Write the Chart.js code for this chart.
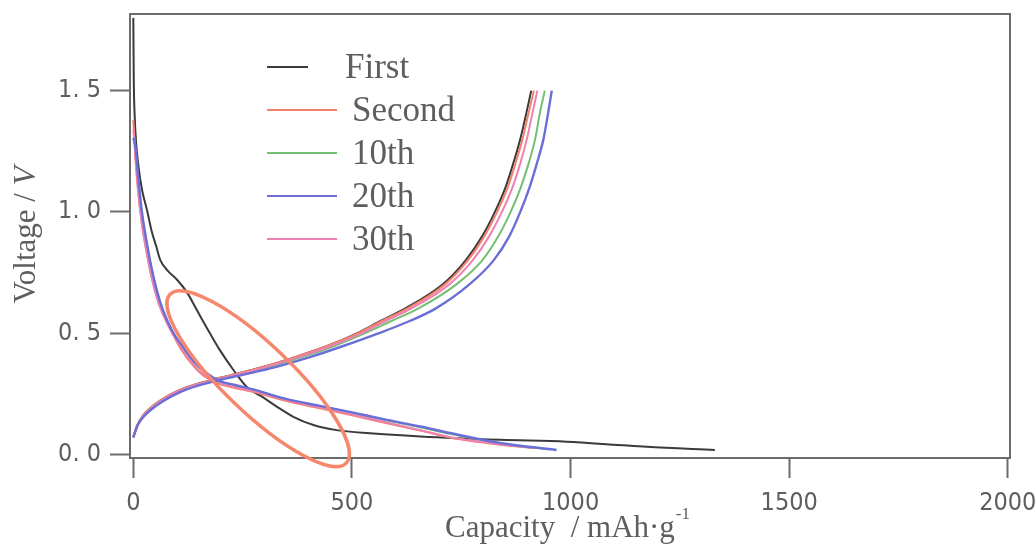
<!DOCTYPE html>
<html lang="en">
<head>
  <meta charset="UTF-8">
  <title>Charge / discharge curves</title>
  <script src="https://cdn.jsdelivr.net/npm/chart.js"></script>
  <style>
    body {
      margin: 0;
      background: #fff;
    }
    #box {
      width: 1036px;
      height: 545px;
    }
  </style>
</head>
<body>
  <div id="box">
    <canvas id="chart" width="1036" height="545"></canvas>
  </div>

  <script>
    // values (capacity in mAh/g, voltage in V)
    const xTicks = [0, 500, 1000, 1500, 2000];
    const yTicks = [0, 0.5, 1.0, 1.5];
    const cycleNames = ['First', 'Second', '10th', '20th', '30th'];

    // charge branch: one shared list of voltages, capacity per cycle
    const chargeVolts   = [0.07, 0.12, 0.16, 0.2, 0.24, 0.27, 0.3, 0.33, 0.36, 0.4, 0.45, 0.5, 0.55, 0.6, 0.7, 0.8, 0.9, 1.0, 1.1, 1.2, 1.3, 1.4, 1.5];
    const firstCharge   = [0, 9, 22, 45, 78, 112, 165, 232, 296, 368, 448, 512, 565, 620, 707, 760, 798, 827, 851, 869, 885, 898, 910];
    const secondCharge  = [0, 9, 22, 45, 78, 112, 165, 232, 296, 368, 448, 514, 568, 625, 712, 765, 803, 832, 856, 874, 890, 903, 916];
    const tenthCharge   = [0, 9, 23, 47, 81, 117, 172, 242, 310, 384, 464, 530, 590, 650, 738, 798, 835, 863, 886, 904, 919, 929, 941];
    const twentiethCharge = [0, 10, 26, 52, 88, 125, 182, 255, 325, 402, 485, 562, 632, 690, 768, 824, 860, 885, 906, 923, 938, 948, 957];
    const thirtiethCharge = [0, 9, 23, 47, 80, 115, 170, 238, 303, 376, 456, 522, 577, 634, 722, 776, 814, 843, 867, 885, 900, 912, 924];

    // discharge branch
    const firstDisCap = [0, 1, 3, 7, 11, 20, 31, 42, 52, 62, 80, 100, 122, 145, 175, 198, 229, 259, 297, 328, 366, 412, 465, 541, 656, 839, 991, 1100, 1174, 1330];
    const firstDisV   = [1.8, 1.55, 1.4, 1.27, 1.2, 1.09, 1.01, 0.92, 0.86, 0.8, 0.755, 0.72, 0.67, 0.596, 0.5, 0.43, 0.348, 0.279, 0.235, 0.197, 0.155, 0.121, 0.1, 0.087, 0.074, 0.06, 0.052, 0.04, 0.031, 0.018];

    const secondDisCap = [0, 2, 6, 12, 20, 30, 42, 57, 75, 92, 110, 135, 160, 190, 230, 274, 351, 427, 503, 580, 656, 747, 839, 915];
    const secondDisV   = [1.38, 1.32, 1.2, 1.07, 0.95, 0.84, 0.73, 0.63, 0.55, 0.49, 0.43, 0.37, 0.325, 0.295, 0.275, 0.258, 0.22, 0.19, 0.16, 0.128, 0.098, 0.062, 0.04, 0.026];

    const tenthDisCap = [0, 4, 11, 19, 31, 46, 61, 78, 95, 115, 140, 168, 198, 235, 274, 351, 427, 503, 580, 656, 724, 839, 950];
    const tenthDisV   = [1.3, 1.27, 1.14, 1.0, 0.865, 0.73, 0.625, 0.547, 0.487, 0.437, 0.378, 0.333, 0.3, 0.283, 0.266, 0.226, 0.198, 0.17, 0.14, 0.112, 0.085, 0.045, 0.02];

    const twentiethDisCap = [0, 4, 11, 19, 31, 46, 61, 78, 95, 115, 140, 168, 198, 235, 274, 351, 427, 503, 580, 656, 724, 839, 968];
    const twentiethDisV   = [1.305, 1.28, 1.146, 1.009, 0.871, 0.733, 0.63, 0.55, 0.49, 0.44, 0.38, 0.335, 0.302, 0.285, 0.268, 0.228, 0.2, 0.172, 0.142, 0.115, 0.088, 0.047, 0.018];

    const thirtiethDisCap = [0, 2, 6, 12, 20, 30, 42, 57, 75, 93, 112, 137, 162, 192, 232, 274, 351, 427, 503, 580, 656, 747, 839, 930];
    const thirtiethDisV   = [1.34, 1.3, 1.19, 1.065, 0.945, 0.835, 0.728, 0.628, 0.55, 0.49, 0.432, 0.372, 0.328, 0.298, 0.278, 0.262, 0.224, 0.194, 0.163, 0.131, 0.1, 0.064, 0.042, 0.025];

    // hand-drawn ring in the figure: its two tips (capacity, voltage)
    const ringTips = [[84, 0.66], [487, -0.036]];

    const colors = ['#3b3b3b', '#f47f6b', '#74bf74', '#6a6fd8', '#ec82b2'];
    const axisGray = '#6b6b6b';
    const textGray = '#5e5e5e';
    const serif = '"Liberation Serif", "Times New Roman", serif';
    const narrow = '"Liberation Sans Narrow", "DejaVu Sans Condensed", "Liberation Sans", sans-serif';

    // discharge points, a break, then charge points
    function curve(disCap, disV, chgCap) {
      const pts = disCap.map((c, i) => ({ x: c, y: disV[i] }));
      pts.push({ x: null, y: null });
      chgCap.forEach((c, i) => pts.push({ x: c, y: chargeVolts[i] }));
      return pts;
    }

    const curves = [
      curve(firstDisCap, firstDisV, firstCharge),
      curve(secondDisCap, secondDisV, secondCharge),
      curve(tenthDisCap, tenthDisV, tenthCharge),
      curve(twentiethDisCap, twentiethDisV, twentiethCharge),
      curve(thirtiethDisCap, thirtiethDisV, thirtiethCharge)
    ];
    const drawOrder = [4, 3, 2, 0, 1];

    const datasets = curves.map((pts, i) => ({
      label: cycleNames[i],
      data: pts,
      borderColor: colors[i],
      backgroundColor: colors[i],
      borderWidth: i === 3 ? 2.4 : 2,
      pointRadius: 0,
      showLine: true,
      spanGaps: false,
      cubicInterpolationMode: 'monotone',
      order: drawOrder[i]
    }));

    // no extra room around the axes, the frame sits where the padding says
    function noPad(s) {
      s.paddingTop = 0;
      s.paddingBottom = 0;
      s.paddingLeft = 0;
      s.paddingRight = 0;
    }

    // frame, ring, legend and axis titles
    const extras = {
      id: 'extras',
      afterDatasetsDraw(chart) {
        const { ctx, chartArea: a, scales: { x, y } } = chart;
        ctx.save();
        ctx.strokeStyle = axisGray;
        ctx.lineWidth = 2;
        ctx.strokeRect(a.left, a.top, a.right - a.left, a.bottom - a.top);

        // ring
        const x1 = x.getPixelForValue(ringTips[0][0]), y1 = y.getPixelForValue(ringTips[0][1]);
        const x2 = x.getPixelForValue(ringTips[1][0]), y2 = y.getPixelForValue(ringTips[1][1]);
        ctx.beginPath();
        ctx.ellipse((x1 + x2) / 2, (y1 + y2) / 2, Math.hypot(x2 - x1, y2 - y1) / 2, 34, Math.atan2(y2 - y1, x2 - x1), 0, Math.PI * 2);
        ctx.strokeStyle = '#f5876d';
        ctx.lineWidth = 3.5;
        ctx.stroke();

        // legend
        ctx.font = '35px ' + serif;
        ctx.textBaseline = 'alphabetic';
        ctx.textAlign = 'left';
        chart.data.datasets.forEach((ds, i) => {
          const base = 78 + i * 43;
          ctx.beginPath();
          ctx.moveTo(267, base - 11);
          ctx.lineTo(i === 0 ? 308 : 337, base - 11);
          ctx.strokeStyle = ds.borderColor;
          ctx.lineWidth = 2;
          ctx.stroke();
          ctx.fillStyle = textGray;
          ctx.fillText(ds.label, i === 0 ? 345 : 352, base);
        });

        // y title
        ctx.save();
        ctx.translate(35, 235);
        ctx.rotate(-Math.PI / 2);
        ctx.fillStyle = textGray;
        ctx.font = '31px ' + serif;
        const yA = 'Voltage / ';
        const wA = ctx.measureText(yA).width;
        ctx.font = 'italic 31px ' + serif;
        const wB = ctx.measureText('V').width;
        ctx.font = '31px ' + serif;
        ctx.fillText(yA, -(wA + wB) / 2, 0);
        ctx.font = 'italic 31px ' + serif;
        ctx.fillText('V', -(wA + wB) / 2 + wA, 0);
        ctx.restore();

        // x title
        ctx.fillStyle = textGray;
        ctx.font = '31px ' + serif;
        const xA = 'Capacity  / mAh\u00b7g';
        const wX = ctx.measureText(xA).width;
        ctx.font = '17px ' + serif;
        const wS = ctx.measureText('-1').width;
        const left = 567 - (wX + wS) / 2;
        ctx.font = '31px ' + serif;
        ctx.fillText(xA, left, 537);
        ctx.font = '17px ' + serif;
        ctx.fillText('-1', left + wX + 1, 519);
        ctx.restore();
      }
    };

    new Chart(document.getElementById('chart'), {
      type: 'scatter',
      data: { datasets },
      options: {
        responsive: false,
        animation: false,
        layout: { padding: { top: 14, right: 26, left: 0, bottom: 0 } },
        plugins: { legend: { display: false }, tooltip: { enabled: false } },
        scales: {
          x: {
            type: 'linear',
            min: -7.6,
            max: 2005,
            afterBuildTicks: s => { s.ticks = xTicks.map(v => ({ value: v })); },
            afterFit: s => { s.height = 87; noPad(s); },
            grid: { drawOnChartArea: false, drawTicks: true, tickLength: 20, tickColor: axisGray, tickWidth: 2 },
            border: { display: true, color: axisGray, width: 2 },
            ticks: { padding: 10, color: textGray, font: { family: narrow, size: 25 }, maxRotation: 0, callback: v => String(v) }
          },
          y: {
            type: 'linear',
            min: -0.015,
            max: 1.816,
            afterBuildTicks: s => { s.ticks = yTicks.map(v => ({ value: v })); },
            afterFit: s => { s.width = 130; noPad(s); },
            grid: { drawOnChartArea: false, drawTicks: true, tickLength: 20, tickColor: axisGray, tickWidth: 2 },
            border: { display: true, color: axisGray, width: 2 },
            ticks: {
              padding: 9,
              color: textGray,
              font: { family: narrow, size: 25 },
              callback: v => v.toFixed(1).replace('.', '. ')
            }
          }
        }
      },
      plugins: [extras]
    });
  </script>
</body>
</html>
